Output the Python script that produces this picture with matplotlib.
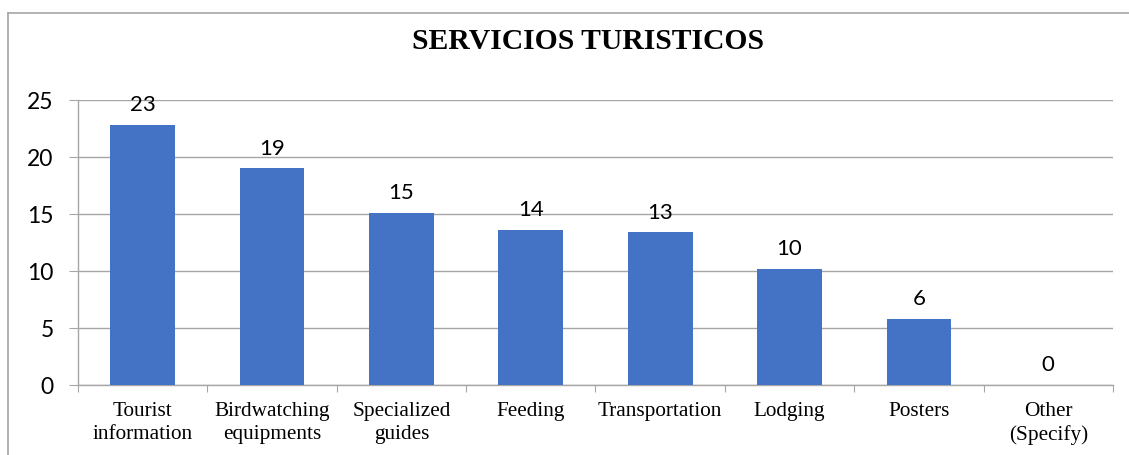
import matplotlib.pyplot as plt
from matplotlib.lines import Line2D
import numpy as np

# servicios turisticos solicitados
categorias = ['Tourist\ninformation', 'Birdwatching\nequipments', 'Specialized\nguides',
              'Feeding', 'Transportation', 'Lodging', 'Posters', 'Other\n(Specify)']
valores = [22.8, 19.0, 15.1, 13.6, 13.4, 10.2, 5.8, 0.0]
yticks = [0, 5, 10, 15, 20, 25]

azul = '#4472C4'
gris = '#A6A6A6'

fig = plt.figure(figsize=(11.29, 4.55), dpi=100)
ax = fig.add_axes([0.0691, 0.1538, 0.9167, 0.6264])

x = np.arange(len(categorias))
ax.bar(x, valores, width=0.5, color=azul, zorder=3)

# etiquetas con el valor redondeado sobre cada barra
for xi, v in zip(x, valores):
    ax.annotate(f'{v:.0f}', (xi, v), xytext=(0, 7), textcoords='offset points',
                ha='center', va='bottom', fontsize=16, family='Lato', color='black')

ax.set_xlim(-0.5, len(categorias) - 0.5)
ax.set_ylim(0, 25)
ax.set_yticks(yticks)
ax.set_yticklabels([str(t) for t in yticks], family='Lato', fontsize=16.5)
ax.yaxis.grid(True, color=gris, linewidth=1.0, zorder=0)

# marcas del eje x en los limites de cada categoria
ax.set_xticks(np.arange(-0.5, len(categorias), 1.0))
ax.set_xticklabels([])
ax.set_xticks(x, minor=True)
ax.set_xticklabels(categorias, minor=True, family='Liberation Serif', fontsize=15.3,
                   linespacing=1.25)
ax.tick_params(axis='x', which='major', length=5, color=gris, direction='out')
ax.tick_params(axis='x', which='minor', length=0, pad=12.5)
ax.tick_params(axis='y', length=6.5, color=gris, pad=11)

for lado in ['top', 'right']:
    ax.spines[lado].set_visible(False)
for lado in ['left', 'bottom']:
    ax.spines[lado].set_color(gris)
    ax.spines[lado].set_linewidth(1.0)

fig.text(0.521, 0.908, 'SERVICIOS TURISTICOS', ha='center', va='center',
         family='Liberation Serif', fontsize=21.3, fontweight='bold')

# borde del area del grafico
fig.add_artist(Line2D([8 / 1129, 8 / 1129], [0, 1 - 13 / 455], color=gris, linewidth=1.2))
fig.add_artist(Line2D([8 / 1129, 1], [1 - 13 / 455, 1 - 13 / 455], color=gris, linewidth=1.2))

fig.savefig('out.png', dpi=100)
